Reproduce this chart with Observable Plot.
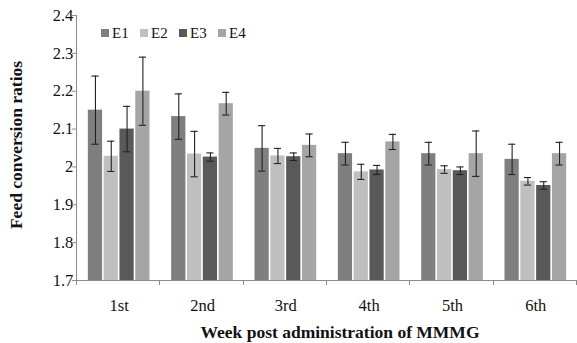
<!DOCTYPE html>
<html>
<head>
<meta charset="utf-8">
<script src="https://cdn.jsdelivr.net/npm/d3@7"></script>
<script src="https://cdn.jsdelivr.net/npm/@observablehq/plot@0.6"></script>
<style>
  html, body { margin: 0; padding: 0; background: #fff; }
  #chart svg { display: block; overflow: visible; }
</style>
</head>
<body>
<div id="chart"></div>
<script>
// ---- data ----
const weeks = ["1st", "2nd", "3rd", "4th", "5th", "6th"];
const series = ["E1", "E2", "E3", "E4"];
const colors = ["#7f7f7f", "#bfbfbf", "#595959", "#a5a5a5"];
// mean feed conversion ratio per week, one array per series
const E1 = [2.15, 2.133, 2.049, 2.035, 2.035, 2.020];
const E2 = [2.028, 2.034, 2.029, 1.987, 1.993, 1.962];
const E3 = [2.100, 2.026, 2.027, 1.992, 1.990, 1.951];
const E4 = [2.200, 2.167, 2.057, 2.066, 2.035, 2.035];
// error bar half-widths
const E1err = [0.09, 0.06, 0.06, 0.03, 0.03, 0.04];
const E2err = [0.04, 0.06, 0.02, 0.02, 0.01, 0.01];
const E3err = [0.06, 0.011, 0.01, 0.012, 0.01, 0.01];
const E4err = [0.09, 0.03, 0.03, 0.02, 0.06, 0.03];
const yTicks = [1.7, 1.8, 1.9, 2.0, 2.1, 2.2, 2.3, 2.4];
const yTickLabels = ["1.7", "1.8", "1.9", "2", "2.1", "2.2", "2.3", "2.4"];
const yTitle = "Feed conversion ratios";
const xTitle = "Week post administration of MMMG";

const means = {E1, E2, E3, E4};
const errs = {E1: E1err, E2: E2err, E3: E3err, E4: E4err};
const data = [];
weeks.forEach((w, i) => series.forEach(s => {
  data.push({week: w, series: s, value: means[s][i], lo: means[s][i] - errs[s][i], hi: means[s][i] + errs[s][i]});
}));

const font = "'Liberation Serif', 'Times New Roman', serif";

const chart = Plot.plot({
  width: 577,
  height: 343,
  marginLeft: 77,
  marginRight: 0,
  marginTop: 15,
  marginBottom: 63,
  style: {fontFamily: font, fontSize: "16.5px", color: "#111", background: "#fff"},
  fx: {domain: weeks, paddingInner: 0.26, paddingOuter: 0.13, round: false, label: null, axis: "bottom", tickSize: 0, tickPadding: 19},
  x: {domain: series, paddingInner: 0.1, paddingOuter: 0, round: false, axis: null},
  y: {domain: [1.7, 2.4], ticks: yTicks, tickFormat: d => yTickLabels[yTicks.findIndex(t => Math.abs(t - d) < 1e-9)], tickSize: 0, tickPadding: 15, label: null},
  color: {domain: series, range: colors},
  marks: [
    Plot.barY(data, {fx: "week", x: "series", y1: 1.7, y2: "value", fill: "series"}),
    Plot.ruleX(data, {fx: "week", x: "series", y1: "lo", y2: "hi", stroke: "#222", strokeWidth: 1.1}),
    Plot.tickY(data, {fx: "week", x: "series", y: "hi", stroke: "#222", strokeWidth: 1.1, insetLeft: 3.5, insetRight: 3.5}),
    Plot.tickY(data, {fx: "week", x: "series", y: "lo", stroke: "#222", strokeWidth: 1.1, insetLeft: 3.5, insetRight: 3.5})
  ]
});
document.getElementById("chart").appendChild(chart);

// ---- axis lines, boundary ticks, legend and titles drawn with the plot's scales ----
const svg = d3.select(chart);
const ys = chart.scale("y");
const fxs = chart.scale("fx");
const bw = fxs.bandwidth;
const starts = weeks.map(w => fxs.apply(w));
const gap = starts[1] - starts[0] - bw;
const bounds = starts.map(s => s - gap / 2).concat([starts[starts.length - 1] + bw + gap / 2]);
const x0 = bounds[0];
const yBase = ys.apply(1.7);
const yTop = ys.apply(2.4);
const g = svg.append("g").attr("stroke", "#8c8c8c").attr("stroke-width", 1);
g.append("line").attr("x1", Math.round(x0) - 0.5).attr("x2", Math.round(x0) - 0.5).attr("y1", yTop).attr("y2", yBase);
g.append("line").attr("x1", x0 - 5).attr("x2", bounds[bounds.length - 1]).attr("y1", yBase + 0.5).attr("y2", yBase + 0.5);
yTicks.forEach(t => g.append("line").attr("x1", x0 - 5).attr("x2", x0).attr("y1", ys.apply(t) + 0.5).attr("y2", ys.apply(t) + 0.5));
bounds.forEach(b => g.append("line").attr("x1", Math.round(b) - 0.5).attr("x2", Math.round(b) - 0.5).attr("y1", yBase).attr("y2", yBase + 5));

// legend
const cs = chart.scale("color");
const leg = svg.append("g").attr("font-family", font).attr("font-size", 15).attr("fill", "#111").attr("text-anchor", "start");
series.forEach((s, i) => {
  const lx = 101 + i * 39;
  leg.append("rect").attr("x", lx).attr("y", 29).attr("width", 8).attr("height", 8).attr("fill", cs.apply(s));
  leg.append("text").attr("x", lx + 11).attr("y", 38).text(s);
});

// titles
svg.append("text").attr("transform", `translate(22,145) rotate(-90)`)
  .attr("text-anchor", "middle").attr("font-family", font).attr("font-weight", "bold").attr("font-size", 17.5).attr("fill", "#111")
  .text(yTitle);
svg.append("text").attr("x", 340).attr("y", 338).attr("text-anchor", "middle")
  .attr("font-family", font).attr("font-weight", "bold").attr("font-size", 17.5).attr("fill", "#111")
  .text(xTitle);
</script>
</body>
</html>
